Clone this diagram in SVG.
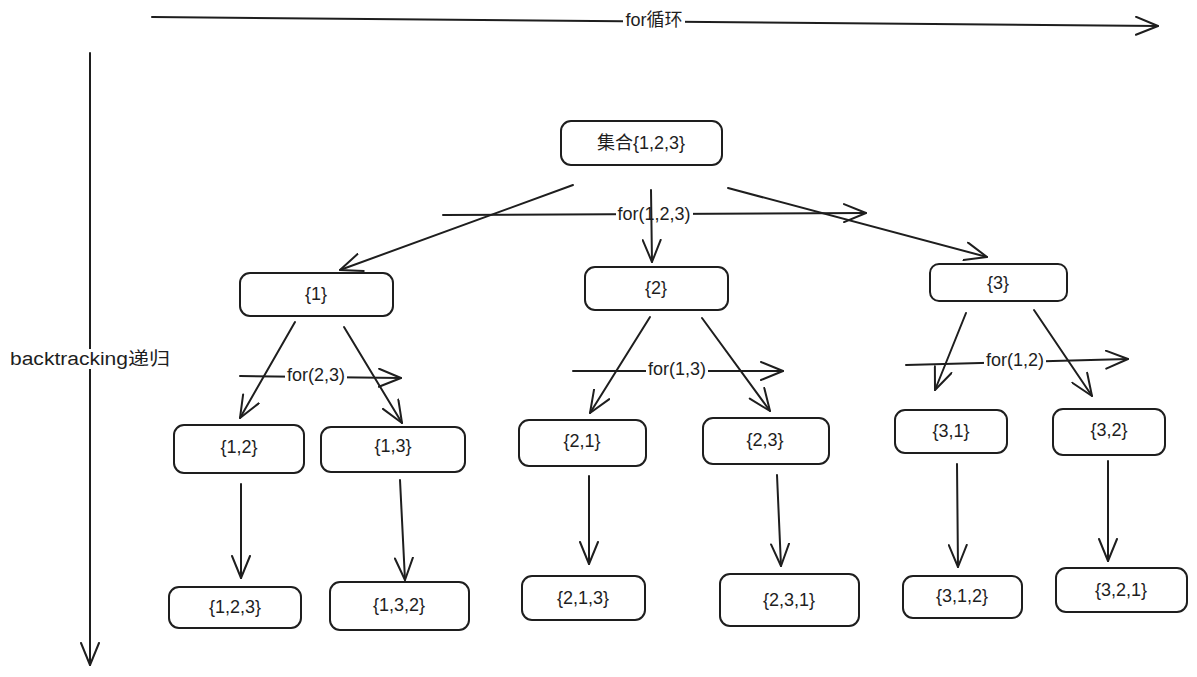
<svg xmlns="http://www.w3.org/2000/svg" width="1197" height="677" viewBox="0 0 1197 677">
  <defs>
    <marker id="arrow" viewBox="0 0 24 20" refX="23" refY="10" markerWidth="24" markerHeight="20" markerUnits="userSpaceOnUse" orient="auto">
      <path d="M1,1 L23,10 L1,19" fill="none" stroke="#1e1e1e" stroke-width="2" stroke-linecap="round" stroke-linejoin="round"/>
    </marker>
    <style>
      .box { fill: #ffffff; stroke: #1e1e1e; stroke-width: 2; }
      .lbl { font-family: "Liberation Sans", "Noto Sans CJK SC", sans-serif; font-size: 18px; fill: #1e1e1e; text-anchor: middle; dominant-baseline: central; }
      .gap { fill: #ffffff; }
      .edge { fill: none; stroke: #1e1e1e; stroke-width: 2; stroke-linecap: round; marker-end: url(#arrow); }
    </style>
  </defs>
  <rect width="1197" height="677" fill="#ffffff"/>

  <!-- axes -->
  <g id="axes">
    <path class="edge" d="M152,17 L1158,26"/>
    <rect class="gap" x="623" y="12" width="62" height="16"/>
    <text class="lbl" x="654" y="20">for循环</text>
    <path class="edge" d="M90,53 L90,665"/>
    <rect class="gap" x="8" y="349" width="164" height="20"/>
    <text class="lbl" x="90" y="359" textLength="160" lengthAdjust="spacingAndGlyphs">backtracking递归</text>
  </g>

  <!-- connectors -->
  <g id="connectors">
    <!-- loop arrows across each level -->
    <path class="edge" d="M443,215 L866,213"/>
    <rect class="gap" x="616" y="206" width="77" height="16"/>
    <text class="lbl" x="654" y="214">for(1,2,3)</text>

    <path class="edge" d="M240,376 L401,378"/>
    <rect class="gap" x="285" y="367" width="62" height="16"/>
    <text class="lbl" x="316" y="375">for(2,3)</text>

    <path class="edge" d="M573,371 L783,371"/>
    <rect class="gap" x="646" y="361" width="62" height="16"/>
    <text class="lbl" x="677" y="369">for(1,3)</text>

    <path class="edge" d="M906,365 L1128,359"/>
    <rect class="gap" x="984" y="352" width="62" height="16"/>
    <text class="lbl" x="1015" y="360">for(1,2)</text>

    <!-- tree edges -->
    <path class="edge" d="M573,185 L340,270"/>
    <path class="edge" d="M651,190 L652,262"/>
    <path class="edge" d="M728,188 L987,257"/>

    <path class="edge" d="M295,322 L240,418"/>
    <path class="edge" d="M344,327 L402,423"/>
    <path class="edge" d="M650,317 L590,413"/>
    <path class="edge" d="M702,318 L770,411"/>
    <path class="edge" d="M966,313 L935,390"/>
    <path class="edge" d="M1034,310 L1092,396"/>

    <path class="edge" d="M241,484 L241,578"/>
    <path class="edge" d="M400,480 L405,580"/>
    <path class="edge" d="M589,476 L589,564"/>
    <path class="edge" d="M777,475 L781,566"/>
    <path class="edge" d="M957,464 L958,567"/>
    <path class="edge" d="M1108,461 L1108,561"/>
  </g>

  <!-- nodes -->
  <g id="root"><rect class="box" x="561" y="121" width="161" height="44" rx="10"/><text class="lbl" x="641" y="143">集合{1,2,3}</text></g>

  <g id="n1"><rect class="box" x="240" y="273" width="153" height="43" rx="10"/><text class="lbl" x="316" y="294">{1}</text></g>
  <g id="n2"><rect class="box" x="585" y="267" width="143" height="43" rx="10"/><text class="lbl" x="656" y="288">{2}</text></g>
  <g id="n3"><rect class="box" x="930" y="264" width="137" height="37" rx="9"/><text class="lbl" x="998" y="283">{3}</text></g>

  <g id="n12"><rect class="box" x="174" y="425" width="130" height="48" rx="10"/><text class="lbl" x="239" y="447">{1,2}</text></g>
  <g id="n13"><rect class="box" x="321" y="427" width="144" height="45" rx="10"/><text class="lbl" x="393" y="446">{1,3}</text></g>
  <g id="n21"><rect class="box" x="519" y="420" width="127" height="46" rx="10"/><text class="lbl" x="582" y="441">{2,1}</text></g>
  <g id="n23"><rect class="box" x="703" y="418" width="126" height="46" rx="10"/><text class="lbl" x="765" y="440">{2,3}</text></g>
  <g id="n31"><rect class="box" x="895" y="410" width="112" height="43" rx="10"/><text class="lbl" x="951" y="431">{3,1}</text></g>
  <g id="n32"><rect class="box" x="1053" y="409" width="112" height="46" rx="10"/><text class="lbl" x="1109" y="430">{3,2}</text></g>

  <g id="n123"><rect class="box" x="169" y="587" width="132" height="41" rx="10"/><text class="lbl" x="235" y="607">{1,2,3}</text></g>
  <g id="n132"><rect class="box" x="330" y="582" width="139" height="48" rx="10"/><text class="lbl" x="399" y="605">{1,3,2}</text></g>
  <g id="n213"><rect class="box" x="522" y="576" width="123" height="44" rx="10"/><text class="lbl" x="583" y="598">{2,1,3}</text></g>
  <g id="n231"><rect class="box" x="720" y="574" width="139" height="52" rx="10"/><text class="lbl" x="789" y="600">{2,3,1}</text></g>
  <g id="n312"><rect class="box" x="903" y="576" width="119" height="42" rx="10"/><text class="lbl" x="962" y="596">{3,1,2}</text></g>
  <g id="n321"><rect class="box" x="1056" y="568" width="131" height="44" rx="10"/><text class="lbl" x="1121" y="590">{3,2,1}</text></g>
</svg>
